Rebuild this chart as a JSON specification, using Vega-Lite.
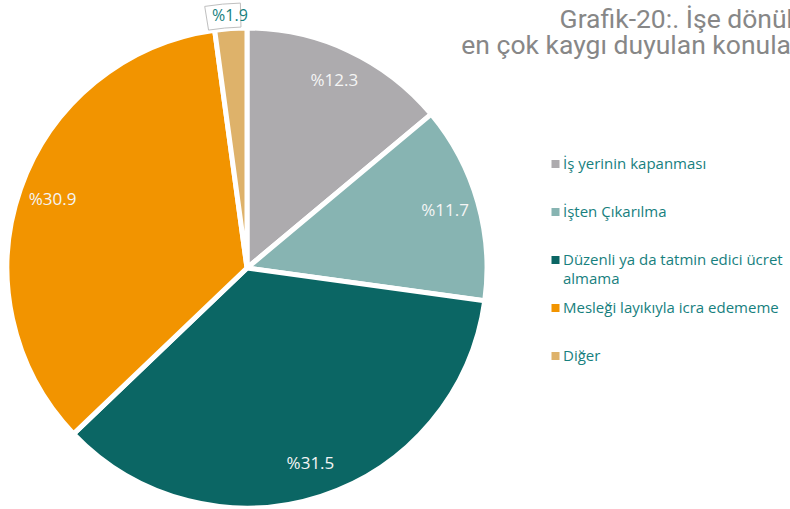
{
  "$schema": "https://vega.github.io/schema/vega-lite/v6.json",
  "width": 494,
  "height": 482,
  "autosize": {"type": "none"},
  "padding": {"left": 0, "top": 27, "right": 296, "bottom": 0},
  "background": "white",
  "view": {"stroke": null},
  "config": {"style": {"guide-label": {"lineHeight": 19}}},
  "title": {
    "text": ["Grafik-20:. İşe dönük", "en çok kaygı duyulan konular"],
    "anchor": "end",
    "align": "right",
    "baseline": "alphabetic",
    "frame": "group",
    "dx": 306,
    "dy": 79,
    "offset": 0,
    "font": "Roboto",
    "fontSize": 26.5,
    "fontWeight": "normal",
    "color": "#878787",
    "lineHeight": 25.5
  },
  "data": {
    "values": [
      {"sira": 1, "kategori": "İş yerinin kapanması", "deger": 12.3, "etiket": "%12.3"},
      {"sira": 2, "kategori": "İşten Çıkarılma", "deger": 11.7, "etiket": "%11.7"},
      {"sira": 3, "kategori": "Düzenli ya da tatmin edici ücret almama", "deger": 31.5, "etiket": "%31.5"},
      {"sira": 4, "kategori": "Mesleği layıkıyla icra edememe", "deger": 30.9, "etiket": "%30.9"},
      {"sira": 5, "kategori": "Diğer", "deger": 1.9, "etiket": "%1.9"}
    ]
  },
  "encoding": {
    "theta": {"field": "deger", "type": "quantitative", "stack": true},
    "order": {"field": "sira", "type": "quantitative"}
  },
  "layer": [
    {
      "mark": {"type": "arc", "radius": 240, "stroke": "white", "strokeWidth": 5},
      "encoding": {
        "color": {
          "field": "kategori",
          "type": "nominal",
          "scale": {
            "domain": ["İş yerinin kapanması", "İşten Çıkarılma", "Düzenli ya da tatmin edici ücret almama", "Mesleği layıkıyla icra edememe", "Diğer"],
            "range": ["#ADABAE", "#87B4B2", "#0B6664", "#F29400", "#DEB26A"]
          },
          "legend": {
            "title": null,
            "orient": "none",
            "legendX": 548,
            "legendY": 128,
            "symbolType": "square",
            "symbolSize": 64,
            "symbolStrokeWidth": 0,
            "labelFont": "Open Sans",
            "labelFontSize": 15,
            "labelColor": "#17807E",
            "gridAlign": "all",
            "rowPadding": 12,
            "labelOffset": 0,
            "padding": 0,
            "labelLimit": 300,
            "clipHeight": 18,
            "labelExpr": "datum.label == 'Düzenli ya da tatmin edici ücret almama' ? ['Düzenli ya da tatmin edici ücret', 'almama'] : datum.label"
          }
        }
      }
    },
    {
      "mark": {"type": "text", "radius": 206, "font": "Open Sans", "fontSize": 17, "fill": "#F5F5F5"},
      "encoding": {
        "text": {"field": "etiket"},
        "opacity": {"condition": {"test": "datum.kategori === 'Diğer'", "value": 0}, "value": 1}
      }
    },
    {
      "mark": {"type": "arc", "radius": 265, "radius2": 241, "thetaOffset": -0.025, "theta2Offset": 0.025, "fill": "white", "stroke": "#BFBFBF", "strokeWidth": 1},
      "encoding": {
        "opacity": {"condition": {"test": "datum.kategori === 'Diğer'", "value": 1}, "value": 0}
      }
    },
    {
      "mark": {"type": "text", "radius": 253, "font": "Open Sans", "fontSize": 16, "fill": "#17807E"},
      "encoding": {
        "text": {"field": "etiket"},
        "opacity": {"condition": {"test": "datum.kategori === 'Diğer'", "value": 1}, "value": 0}
      }
    }
  ]
}
